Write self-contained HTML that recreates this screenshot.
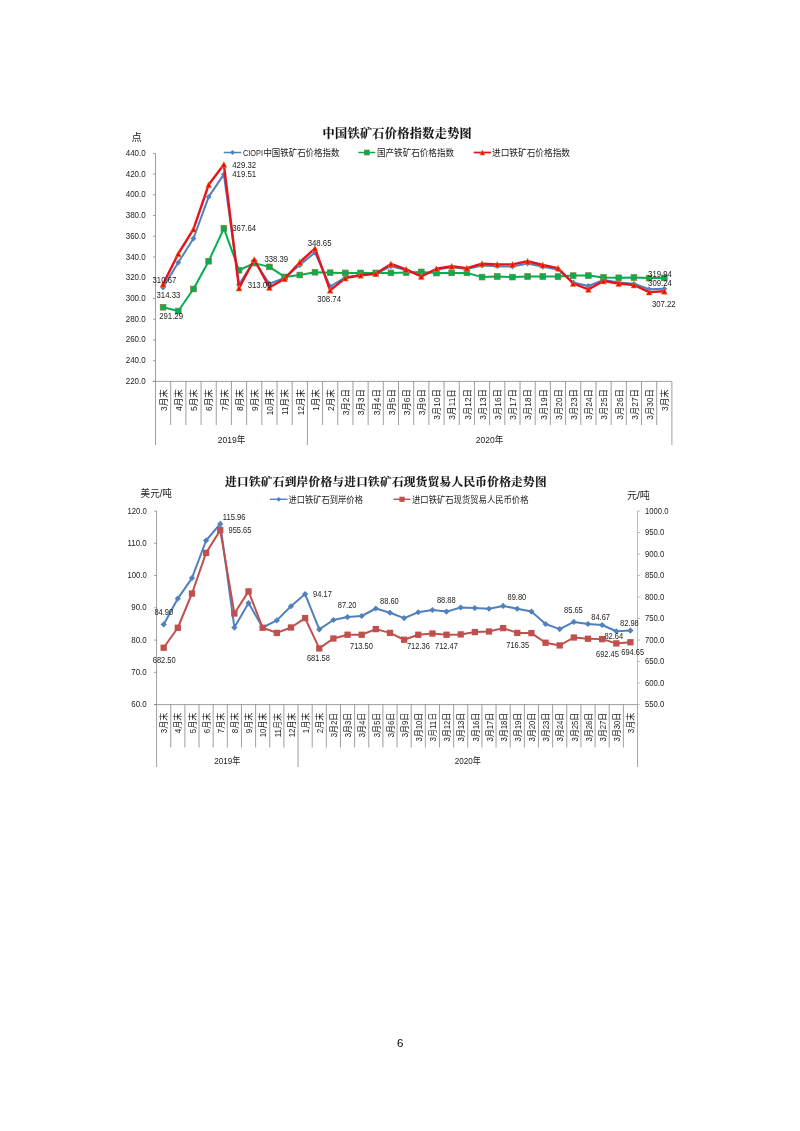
<!DOCTYPE html>
<html lang="zh-CN"><head><meta charset="utf-8"><title>铁矿石价格走势图</title>
<style>html,body{margin:0;padding:0;background:#fff}body{width:800px;height:1131px;overflow:hidden;position:relative}svg{position:absolute;left:0;top:0;display:block;will-change:transform;font-family:"Liberation Sans","Noto Sans CJK SC",sans-serif}</style></head><body>
<svg width="800" height="1131" viewBox="0 0 800 1131">
<rect width="800" height="1131" fill="#fff"/>
<g id="chart1">
<text x="322.5" y="138.3" font-size="12.1" font-weight="bold" textLength="149.2" lengthAdjust="spacing" fill="#111" font-family='"Liberation Serif","Noto Serif CJK SC",serif' stroke="#111" stroke-width="0.15">中国铁矿石价格指数走势图</text>
<text x="131.6" y="141" font-size="10.3" fill="#1c1c1c">点</text>
<path d="M223.7 152.5H241.3" stroke="#4F81BD" stroke-width="1.5"/>
<path d="M232.5 150L235 152.5L232.5 155L230 152.5Z" fill="#4F81BD"/>
<text x="243" y="155.9" font-size="9.2" textLength="20" lengthAdjust="spacingAndGlyphs" fill="#1c1c1c">CIOPI</text>
<text x="263.4" y="155.9" font-size="9.6" textLength="76" lengthAdjust="spacingAndGlyphs" fill="#1c1c1c">中国铁矿石价格指数</text>
<path d="M358.4 152.5H375.3" stroke="#00B050" stroke-width="1.5"/>
<rect x="364.3" y="150" width="5" height="5" fill="#00B050" stroke="#6f7f3f" stroke-width="0.6"/>
<text x="377" y="155.9" font-size="9.6" textLength="77" lengthAdjust="spacingAndGlyphs" fill="#1c1c1c">国产铁矿石价格指数</text>
<path d="M473.7 152.5H491.2" stroke="#E8121C" stroke-width="1.7"/>
<path d="M482.4 150L484.9 155L479.9 155Z" fill="#FF0000" stroke="#C8963C" stroke-width="0.6"/>
<text x="492" y="155.9" font-size="9.6" textLength="78" lengthAdjust="spacingAndGlyphs" fill="#1c1c1c">进口铁矿石价格指数</text>
<g stroke="#7f7f7f" stroke-width="0.75" fill="none">
<path d="M155.5 153.35V381.4M153 153.35H155.5M153 174.08H155.5M153 194.81H155.5M153 215.55H155.5M153 236.28H155.5M153 257.01H155.5M153 277.74H155.5M153 298.47H155.5M153 319.21H155.5M153 339.94H155.5M153 360.67H155.5M153 381.4H155.5"/></g>
<text x="145.7" y="155.85" font-size="8.8" text-anchor="end" textLength="20" lengthAdjust="spacingAndGlyphs" fill="#1c1c1c">440.0</text>
<text x="145.7" y="176.58" font-size="8.8" text-anchor="end" textLength="20" lengthAdjust="spacingAndGlyphs" fill="#1c1c1c">420.0</text>
<text x="145.7" y="197.31" font-size="8.8" text-anchor="end" textLength="20" lengthAdjust="spacingAndGlyphs" fill="#1c1c1c">400.0</text>
<text x="145.7" y="218.05" font-size="8.8" text-anchor="end" textLength="20" lengthAdjust="spacingAndGlyphs" fill="#1c1c1c">380.0</text>
<text x="145.7" y="238.78" font-size="8.8" text-anchor="end" textLength="20" lengthAdjust="spacingAndGlyphs" fill="#1c1c1c">360.0</text>
<text x="145.7" y="259.51" font-size="8.8" text-anchor="end" textLength="20" lengthAdjust="spacingAndGlyphs" fill="#1c1c1c">340.0</text>
<text x="145.7" y="280.24" font-size="8.8" text-anchor="end" textLength="20" lengthAdjust="spacingAndGlyphs" fill="#1c1c1c">320.0</text>
<text x="145.7" y="300.97" font-size="8.8" text-anchor="end" textLength="20" lengthAdjust="spacingAndGlyphs" fill="#1c1c1c">300.0</text>
<text x="145.7" y="321.71" font-size="8.8" text-anchor="end" textLength="20" lengthAdjust="spacingAndGlyphs" fill="#1c1c1c">280.0</text>
<text x="145.7" y="342.44" font-size="8.8" text-anchor="end" textLength="20" lengthAdjust="spacingAndGlyphs" fill="#1c1c1c">260.0</text>
<text x="145.7" y="363.17" font-size="8.8" text-anchor="end" textLength="20" lengthAdjust="spacingAndGlyphs" fill="#1c1c1c">240.0</text>
<text x="145.7" y="383.9" font-size="8.8" text-anchor="end" textLength="20" lengthAdjust="spacingAndGlyphs" fill="#1c1c1c">220.0</text>
<g stroke="#7f7f7f" stroke-width="0.75" fill="none">
<path d="M153 381.4H671.9"/>
<path d="M170.69 381.4V425M185.88 381.4V425M201.06 381.4V425M216.25 381.4V425M231.44 381.4V425M246.63 381.4V425M261.82 381.4V425M277.01 381.4V425M292.19 381.4V425M307.38 381.4V445M322.57 381.4V425M337.76 381.4V425M352.95 381.4V425M368.14 381.4V425M383.32 381.4V425M398.51 381.4V425M413.7 381.4V425M428.89 381.4V425M444.08 381.4V425M459.26 381.4V425M474.45 381.4V425M489.64 381.4V425M504.83 381.4V425M520.02 381.4V425M535.21 381.4V425M550.39 381.4V425M565.58 381.4V425M580.77 381.4V425M595.96 381.4V425M611.15 381.4V425M626.34 381.4V425M641.52 381.4V425M656.71 381.4V425"/>
<path d="M155.5 381.4V445"/>
<path d="M671.9 381.4V445"/>
</g>
<text transform="translate(166.9 389.2) rotate(-90)" font-size="9.45" text-anchor="end" textLength="21.75" lengthAdjust="spacingAndGlyphs" fill="#1c1c1c">3月末</text>
<text transform="translate(182.08 389.2) rotate(-90)" font-size="9.45" text-anchor="end" textLength="21.75" lengthAdjust="spacingAndGlyphs" fill="#1c1c1c">4月末</text>
<text transform="translate(197.27 389.2) rotate(-90)" font-size="9.45" text-anchor="end" textLength="21.75" lengthAdjust="spacingAndGlyphs" fill="#1c1c1c">5月末</text>
<text transform="translate(212.46 389.2) rotate(-90)" font-size="9.45" text-anchor="end" textLength="21.75" lengthAdjust="spacingAndGlyphs" fill="#1c1c1c">6月末</text>
<text transform="translate(227.65 389.2) rotate(-90)" font-size="9.45" text-anchor="end" textLength="21.75" lengthAdjust="spacingAndGlyphs" fill="#1c1c1c">7月末</text>
<text transform="translate(242.84 389.2) rotate(-90)" font-size="9.45" text-anchor="end" textLength="21.75" lengthAdjust="spacingAndGlyphs" fill="#1c1c1c">8月末</text>
<text transform="translate(258.03 389.2) rotate(-90)" font-size="9.45" text-anchor="end" textLength="21.75" lengthAdjust="spacingAndGlyphs" fill="#1c1c1c">9月末</text>
<text transform="translate(273.21 389.2) rotate(-90)" font-size="9.45" text-anchor="end" textLength="26.1" lengthAdjust="spacingAndGlyphs" fill="#1c1c1c">10月末</text>
<text transform="translate(288.4 389.2) rotate(-90)" font-size="9.45" text-anchor="end" textLength="26.1" lengthAdjust="spacingAndGlyphs" fill="#1c1c1c">11月末</text>
<text transform="translate(303.59 389.2) rotate(-90)" font-size="9.45" text-anchor="end" textLength="26.1" lengthAdjust="spacingAndGlyphs" fill="#1c1c1c">12月末</text>
<text transform="translate(318.78 389.2) rotate(-90)" font-size="9.45" text-anchor="end" textLength="21.75" lengthAdjust="spacingAndGlyphs" fill="#1c1c1c">1月末</text>
<text transform="translate(333.97 389.2) rotate(-90)" font-size="9.45" text-anchor="end" textLength="21.75" lengthAdjust="spacingAndGlyphs" fill="#1c1c1c">2月末</text>
<text transform="translate(349.15 389.2) rotate(-90)" font-size="9.45" text-anchor="end" textLength="26.1" lengthAdjust="spacingAndGlyphs" fill="#1c1c1c">3月2日</text>
<text transform="translate(364.34 389.2) rotate(-90)" font-size="9.45" text-anchor="end" textLength="26.1" lengthAdjust="spacingAndGlyphs" fill="#1c1c1c">3月3日</text>
<text transform="translate(379.53 389.2) rotate(-90)" font-size="9.45" text-anchor="end" textLength="26.1" lengthAdjust="spacingAndGlyphs" fill="#1c1c1c">3月4日</text>
<text transform="translate(394.72 389.2) rotate(-90)" font-size="9.45" text-anchor="end" textLength="26.1" lengthAdjust="spacingAndGlyphs" fill="#1c1c1c">3月5日</text>
<text transform="translate(409.91 389.2) rotate(-90)" font-size="9.45" text-anchor="end" textLength="26.1" lengthAdjust="spacingAndGlyphs" fill="#1c1c1c">3月6日</text>
<text transform="translate(425.1 389.2) rotate(-90)" font-size="9.45" text-anchor="end" textLength="26.1" lengthAdjust="spacingAndGlyphs" fill="#1c1c1c">3月9日</text>
<text transform="translate(440.28 389.2) rotate(-90)" font-size="9.45" text-anchor="end" textLength="30.45" lengthAdjust="spacingAndGlyphs" fill="#1c1c1c">3月10日</text>
<text transform="translate(455.47 389.2) rotate(-90)" font-size="9.45" text-anchor="end" textLength="30.45" lengthAdjust="spacingAndGlyphs" fill="#1c1c1c">3月11日</text>
<text transform="translate(470.66 389.2) rotate(-90)" font-size="9.45" text-anchor="end" textLength="30.45" lengthAdjust="spacingAndGlyphs" fill="#1c1c1c">3月12日</text>
<text transform="translate(485.85 389.2) rotate(-90)" font-size="9.45" text-anchor="end" textLength="30.45" lengthAdjust="spacingAndGlyphs" fill="#1c1c1c">3月13日</text>
<text transform="translate(501.04 389.2) rotate(-90)" font-size="9.45" text-anchor="end" textLength="30.45" lengthAdjust="spacingAndGlyphs" fill="#1c1c1c">3月16日</text>
<text transform="translate(516.23 389.2) rotate(-90)" font-size="9.45" text-anchor="end" textLength="30.45" lengthAdjust="spacingAndGlyphs" fill="#1c1c1c">3月17日</text>
<text transform="translate(531.41 389.2) rotate(-90)" font-size="9.45" text-anchor="end" textLength="30.45" lengthAdjust="spacingAndGlyphs" fill="#1c1c1c">3月18日</text>
<text transform="translate(546.6 389.2) rotate(-90)" font-size="9.45" text-anchor="end" textLength="30.45" lengthAdjust="spacingAndGlyphs" fill="#1c1c1c">3月19日</text>
<text transform="translate(561.79 389.2) rotate(-90)" font-size="9.45" text-anchor="end" textLength="30.45" lengthAdjust="spacingAndGlyphs" fill="#1c1c1c">3月20日</text>
<text transform="translate(576.98 389.2) rotate(-90)" font-size="9.45" text-anchor="end" textLength="30.45" lengthAdjust="spacingAndGlyphs" fill="#1c1c1c">3月23日</text>
<text transform="translate(592.17 389.2) rotate(-90)" font-size="9.45" text-anchor="end" textLength="30.45" lengthAdjust="spacingAndGlyphs" fill="#1c1c1c">3月24日</text>
<text transform="translate(607.35 389.2) rotate(-90)" font-size="9.45" text-anchor="end" textLength="30.45" lengthAdjust="spacingAndGlyphs" fill="#1c1c1c">3月25日</text>
<text transform="translate(622.54 389.2) rotate(-90)" font-size="9.45" text-anchor="end" textLength="30.45" lengthAdjust="spacingAndGlyphs" fill="#1c1c1c">3月26日</text>
<text transform="translate(637.73 389.2) rotate(-90)" font-size="9.45" text-anchor="end" textLength="30.45" lengthAdjust="spacingAndGlyphs" fill="#1c1c1c">3月27日</text>
<text transform="translate(652.92 389.2) rotate(-90)" font-size="9.45" text-anchor="end" textLength="30.45" lengthAdjust="spacingAndGlyphs" fill="#1c1c1c">3月30日</text>
<text transform="translate(668.11 389.2) rotate(-90)" font-size="9.45" text-anchor="end" textLength="21.75" lengthAdjust="spacingAndGlyphs" fill="#1c1c1c">3月末</text>
<text x="231.44" y="442.6" font-size="9.45" text-anchor="middle" textLength="27.6" lengthAdjust="spacingAndGlyphs" fill="#1c1c1c">2019年</text>
<text x="489.64" y="442.6" font-size="9.45" text-anchor="middle" textLength="27.6" lengthAdjust="spacingAndGlyphs" fill="#1c1c1c">2020年</text>
<polyline points="163.09,287.5 178.28,262.5 193.47,238.5 208.66,196.9 223.85,174.4 239.04,284.6 254.22,260.5 269.41,283.75 284.6,278 299.79,265 314.98,252.5 330.16,286.5 345.35,277.3 360.54,275 375.73,273.75 390.92,266.25 406.11,270 421.29,276 436.48,269.5 451.67,267.2 466.86,269 482.05,265.6 497.24,266.2 512.42,266.5 527.61,263.5 542.8,266.8 557.99,269.4 573.18,282.5 588.36,286 603.55,280 618.74,282.5 633.93,283.8 649.12,289.3 664.31,288.8" fill="none" stroke="#4F81BD" stroke-width="2" stroke-linejoin="round" stroke-linecap="round"/>
<path d="M163.09 284.6L165.99 287.5L163.09 290.4L160.19 287.5Z" fill="#4F81BD"/>
<path d="M178.28 259.6L181.18 262.5L178.28 265.4L175.38 262.5Z" fill="#4F81BD"/>
<path d="M193.47 235.6L196.37 238.5L193.47 241.4L190.57 238.5Z" fill="#4F81BD"/>
<path d="M208.66 194L211.56 196.9L208.66 199.8L205.76 196.9Z" fill="#4F81BD"/>
<path d="M223.85 171.5L226.75 174.4L223.85 177.3L220.95 174.4Z" fill="#4F81BD"/>
<path d="M239.04 281.7L241.94 284.6L239.04 287.5L236.14 284.6Z" fill="#4F81BD"/>
<path d="M254.22 257.6L257.12 260.5L254.22 263.4L251.32 260.5Z" fill="#4F81BD"/>
<path d="M269.41 280.85L272.31 283.75L269.41 286.65L266.51 283.75Z" fill="#4F81BD"/>
<path d="M284.6 275.1L287.5 278L284.6 280.9L281.7 278Z" fill="#4F81BD"/>
<path d="M299.79 262.1L302.69 265L299.79 267.9L296.89 265Z" fill="#4F81BD"/>
<path d="M314.98 249.6L317.88 252.5L314.98 255.4L312.08 252.5Z" fill="#4F81BD"/>
<path d="M330.16 283.6L333.06 286.5L330.16 289.4L327.26 286.5Z" fill="#4F81BD"/>
<path d="M345.35 274.4L348.25 277.3L345.35 280.2L342.45 277.3Z" fill="#4F81BD"/>
<path d="M360.54 272.1L363.44 275L360.54 277.9L357.64 275Z" fill="#4F81BD"/>
<path d="M375.73 270.85L378.63 273.75L375.73 276.65L372.83 273.75Z" fill="#4F81BD"/>
<path d="M390.92 263.35L393.82 266.25L390.92 269.15L388.02 266.25Z" fill="#4F81BD"/>
<path d="M406.11 267.1L409.01 270L406.11 272.9L403.21 270Z" fill="#4F81BD"/>
<path d="M421.29 273.1L424.19 276L421.29 278.9L418.39 276Z" fill="#4F81BD"/>
<path d="M436.48 266.6L439.38 269.5L436.48 272.4L433.58 269.5Z" fill="#4F81BD"/>
<path d="M451.67 264.3L454.57 267.2L451.67 270.1L448.77 267.2Z" fill="#4F81BD"/>
<path d="M466.86 266.1L469.76 269L466.86 271.9L463.96 269Z" fill="#4F81BD"/>
<path d="M482.05 262.7L484.95 265.6L482.05 268.5L479.15 265.6Z" fill="#4F81BD"/>
<path d="M497.24 263.3L500.14 266.2L497.24 269.1L494.34 266.2Z" fill="#4F81BD"/>
<path d="M512.42 263.6L515.32 266.5L512.42 269.4L509.52 266.5Z" fill="#4F81BD"/>
<path d="M527.61 260.6L530.51 263.5L527.61 266.4L524.71 263.5Z" fill="#4F81BD"/>
<path d="M542.8 263.9L545.7 266.8L542.8 269.7L539.9 266.8Z" fill="#4F81BD"/>
<path d="M557.99 266.5L560.89 269.4L557.99 272.3L555.09 269.4Z" fill="#4F81BD"/>
<path d="M573.18 279.6L576.08 282.5L573.18 285.4L570.28 282.5Z" fill="#4F81BD"/>
<path d="M588.36 283.1L591.26 286L588.36 288.9L585.46 286Z" fill="#4F81BD"/>
<path d="M603.55 277.1L606.45 280L603.55 282.9L600.65 280Z" fill="#4F81BD"/>
<path d="M618.74 279.6L621.64 282.5L618.74 285.4L615.84 282.5Z" fill="#4F81BD"/>
<path d="M633.93 280.9L636.83 283.8L633.93 286.7L631.03 283.8Z" fill="#4F81BD"/>
<path d="M649.12 286.4L652.02 289.3L649.12 292.2L646.22 289.3Z" fill="#4F81BD"/>
<path d="M664.31 285.9L667.21 288.8L664.31 291.7L661.41 288.8Z" fill="#4F81BD"/>
<polyline points="163.09,307.25 178.28,311 193.47,289 208.66,261.25 223.85,228.4 239.04,270.25 254.22,263.1 269.41,266.9 284.6,276.9 299.79,275 314.98,272.25 330.16,272.7 345.35,272.9 360.54,272.9 375.73,272.9 390.92,272.9 406.11,272.5 421.29,271.9 436.48,273.1 451.67,272.9 466.86,272.9 482.05,277.1 497.24,276.5 512.42,277.1 527.61,276.5 542.8,276.5 557.99,276.6 573.18,275.6 588.36,275.6 603.55,277.5 618.74,277.75 633.93,277.5 649.12,278.1 664.31,277.9" fill="none" stroke="#00B050" stroke-width="2" stroke-linejoin="round" stroke-linecap="round"/>
<rect x="160.24" y="304.4" width="5.7" height="5.7" fill="#00B050" stroke="#7d7a3a" stroke-width="0.7"/>
<rect x="175.43" y="308.15" width="5.7" height="5.7" fill="#00B050" stroke="#7d7a3a" stroke-width="0.7"/>
<rect x="190.62" y="286.15" width="5.7" height="5.7" fill="#00B050" stroke="#7d7a3a" stroke-width="0.7"/>
<rect x="205.81" y="258.4" width="5.7" height="5.7" fill="#00B050" stroke="#7d7a3a" stroke-width="0.7"/>
<rect x="221" y="225.55" width="5.7" height="5.7" fill="#00B050" stroke="#7d7a3a" stroke-width="0.7"/>
<rect x="236.19" y="267.4" width="5.7" height="5.7" fill="#00B050" stroke="#7d7a3a" stroke-width="0.7"/>
<rect x="251.37" y="260.25" width="5.7" height="5.7" fill="#00B050" stroke="#7d7a3a" stroke-width="0.7"/>
<rect x="266.56" y="264.05" width="5.7" height="5.7" fill="#00B050" stroke="#7d7a3a" stroke-width="0.7"/>
<rect x="281.75" y="274.05" width="5.7" height="5.7" fill="#00B050" stroke="#7d7a3a" stroke-width="0.7"/>
<rect x="296.94" y="272.15" width="5.7" height="5.7" fill="#00B050" stroke="#7d7a3a" stroke-width="0.7"/>
<rect x="312.13" y="269.4" width="5.7" height="5.7" fill="#00B050" stroke="#7d7a3a" stroke-width="0.7"/>
<rect x="327.31" y="269.85" width="5.7" height="5.7" fill="#00B050" stroke="#7d7a3a" stroke-width="0.7"/>
<rect x="342.5" y="270.05" width="5.7" height="5.7" fill="#00B050" stroke="#7d7a3a" stroke-width="0.7"/>
<rect x="357.69" y="270.05" width="5.7" height="5.7" fill="#00B050" stroke="#7d7a3a" stroke-width="0.7"/>
<rect x="372.88" y="270.05" width="5.7" height="5.7" fill="#00B050" stroke="#7d7a3a" stroke-width="0.7"/>
<rect x="388.07" y="270.05" width="5.7" height="5.7" fill="#00B050" stroke="#7d7a3a" stroke-width="0.7"/>
<rect x="403.26" y="269.65" width="5.7" height="5.7" fill="#00B050" stroke="#7d7a3a" stroke-width="0.7"/>
<rect x="418.44" y="269.05" width="5.7" height="5.7" fill="#00B050" stroke="#7d7a3a" stroke-width="0.7"/>
<rect x="433.63" y="270.25" width="5.7" height="5.7" fill="#00B050" stroke="#7d7a3a" stroke-width="0.7"/>
<rect x="448.82" y="270.05" width="5.7" height="5.7" fill="#00B050" stroke="#7d7a3a" stroke-width="0.7"/>
<rect x="464.01" y="270.05" width="5.7" height="5.7" fill="#00B050" stroke="#7d7a3a" stroke-width="0.7"/>
<rect x="479.2" y="274.25" width="5.7" height="5.7" fill="#00B050" stroke="#7d7a3a" stroke-width="0.7"/>
<rect x="494.39" y="273.65" width="5.7" height="5.7" fill="#00B050" stroke="#7d7a3a" stroke-width="0.7"/>
<rect x="509.57" y="274.25" width="5.7" height="5.7" fill="#00B050" stroke="#7d7a3a" stroke-width="0.7"/>
<rect x="524.76" y="273.65" width="5.7" height="5.7" fill="#00B050" stroke="#7d7a3a" stroke-width="0.7"/>
<rect x="539.95" y="273.65" width="5.7" height="5.7" fill="#00B050" stroke="#7d7a3a" stroke-width="0.7"/>
<rect x="555.14" y="273.75" width="5.7" height="5.7" fill="#00B050" stroke="#7d7a3a" stroke-width="0.7"/>
<rect x="570.33" y="272.75" width="5.7" height="5.7" fill="#00B050" stroke="#7d7a3a" stroke-width="0.7"/>
<rect x="585.51" y="272.75" width="5.7" height="5.7" fill="#00B050" stroke="#7d7a3a" stroke-width="0.7"/>
<rect x="600.7" y="274.65" width="5.7" height="5.7" fill="#00B050" stroke="#7d7a3a" stroke-width="0.7"/>
<rect x="615.89" y="274.9" width="5.7" height="5.7" fill="#00B050" stroke="#7d7a3a" stroke-width="0.7"/>
<rect x="631.08" y="274.65" width="5.7" height="5.7" fill="#00B050" stroke="#7d7a3a" stroke-width="0.7"/>
<rect x="646.27" y="275.25" width="5.7" height="5.7" fill="#00B050" stroke="#7d7a3a" stroke-width="0.7"/>
<rect x="661.46" y="275.05" width="5.7" height="5.7" fill="#00B050" stroke="#7d7a3a" stroke-width="0.7"/>
<polyline points="163.09,284.1 178.28,253.75 193.47,229.2 208.66,184.75 223.85,164.5 239.04,288.1 254.22,259.5 269.41,287.5 284.6,278.75 299.79,262.25 314.98,248.5 330.16,290.4 345.35,278.1 360.54,275.25 375.73,273.75 390.92,264 406.11,269.4 421.29,276.5 436.48,268.75 451.67,266.25 466.86,268.1 482.05,263.75 497.24,264.4 512.42,264.4 527.61,261.25 542.8,265 557.99,268.1 573.18,283.5 588.36,289.4 603.55,281 618.74,283.5 633.93,285 649.12,292.1 664.31,291.25" fill="none" stroke="#E8121C" stroke-width="2.4" stroke-linejoin="round" stroke-linecap="round"/>
<path d="M163.09 281.2L165.99 287L160.19 287Z" fill="#FF0000" stroke="#C8963C" stroke-width="0.6"/>
<path d="M178.28 250.85L181.18 256.65L175.38 256.65Z" fill="#FF0000" stroke="#C8963C" stroke-width="0.6"/>
<path d="M193.47 226.3L196.37 232.1L190.57 232.1Z" fill="#FF0000" stroke="#C8963C" stroke-width="0.6"/>
<path d="M208.66 181.85L211.56 187.65L205.76 187.65Z" fill="#FF0000" stroke="#C8963C" stroke-width="0.6"/>
<path d="M223.85 161.6L226.75 167.4L220.95 167.4Z" fill="#FF0000" stroke="#C8963C" stroke-width="0.6"/>
<path d="M239.04 285.2L241.94 291L236.14 291Z" fill="#FF0000" stroke="#C8963C" stroke-width="0.6"/>
<path d="M254.22 256.6L257.12 262.4L251.32 262.4Z" fill="#FF0000" stroke="#C8963C" stroke-width="0.6"/>
<path d="M269.41 284.6L272.31 290.4L266.51 290.4Z" fill="#FF0000" stroke="#C8963C" stroke-width="0.6"/>
<path d="M284.6 275.85L287.5 281.65L281.7 281.65Z" fill="#FF0000" stroke="#C8963C" stroke-width="0.6"/>
<path d="M299.79 259.35L302.69 265.15L296.89 265.15Z" fill="#FF0000" stroke="#C8963C" stroke-width="0.6"/>
<path d="M314.98 245.6L317.88 251.4L312.08 251.4Z" fill="#FF0000" stroke="#C8963C" stroke-width="0.6"/>
<path d="M330.16 287.5L333.06 293.3L327.26 293.3Z" fill="#FF0000" stroke="#C8963C" stroke-width="0.6"/>
<path d="M345.35 275.2L348.25 281L342.45 281Z" fill="#FF0000" stroke="#C8963C" stroke-width="0.6"/>
<path d="M360.54 272.35L363.44 278.15L357.64 278.15Z" fill="#FF0000" stroke="#C8963C" stroke-width="0.6"/>
<path d="M375.73 270.85L378.63 276.65L372.83 276.65Z" fill="#FF0000" stroke="#C8963C" stroke-width="0.6"/>
<path d="M390.92 261.1L393.82 266.9L388.02 266.9Z" fill="#FF0000" stroke="#C8963C" stroke-width="0.6"/>
<path d="M406.11 266.5L409.01 272.3L403.21 272.3Z" fill="#FF0000" stroke="#C8963C" stroke-width="0.6"/>
<path d="M421.29 273.6L424.19 279.4L418.39 279.4Z" fill="#FF0000" stroke="#C8963C" stroke-width="0.6"/>
<path d="M436.48 265.85L439.38 271.65L433.58 271.65Z" fill="#FF0000" stroke="#C8963C" stroke-width="0.6"/>
<path d="M451.67 263.35L454.57 269.15L448.77 269.15Z" fill="#FF0000" stroke="#C8963C" stroke-width="0.6"/>
<path d="M466.86 265.2L469.76 271L463.96 271Z" fill="#FF0000" stroke="#C8963C" stroke-width="0.6"/>
<path d="M482.05 260.85L484.95 266.65L479.15 266.65Z" fill="#FF0000" stroke="#C8963C" stroke-width="0.6"/>
<path d="M497.24 261.5L500.14 267.3L494.34 267.3Z" fill="#FF0000" stroke="#C8963C" stroke-width="0.6"/>
<path d="M512.42 261.5L515.32 267.3L509.52 267.3Z" fill="#FF0000" stroke="#C8963C" stroke-width="0.6"/>
<path d="M527.61 258.35L530.51 264.15L524.71 264.15Z" fill="#FF0000" stroke="#C8963C" stroke-width="0.6"/>
<path d="M542.8 262.1L545.7 267.9L539.9 267.9Z" fill="#FF0000" stroke="#C8963C" stroke-width="0.6"/>
<path d="M557.99 265.2L560.89 271L555.09 271Z" fill="#FF0000" stroke="#C8963C" stroke-width="0.6"/>
<path d="M573.18 280.6L576.08 286.4L570.28 286.4Z" fill="#FF0000" stroke="#C8963C" stroke-width="0.6"/>
<path d="M588.36 286.5L591.26 292.3L585.46 292.3Z" fill="#FF0000" stroke="#C8963C" stroke-width="0.6"/>
<path d="M603.55 278.1L606.45 283.9L600.65 283.9Z" fill="#FF0000" stroke="#C8963C" stroke-width="0.6"/>
<path d="M618.74 280.6L621.64 286.4L615.84 286.4Z" fill="#FF0000" stroke="#C8963C" stroke-width="0.6"/>
<path d="M633.93 282.1L636.83 287.9L631.03 287.9Z" fill="#FF0000" stroke="#C8963C" stroke-width="0.6"/>
<path d="M649.12 289.2L652.02 295L646.22 295Z" fill="#FF0000" stroke="#C8963C" stroke-width="0.6"/>
<path d="M664.31 288.35L667.21 294.15L661.41 294.15Z" fill="#FF0000" stroke="#C8963C" stroke-width="0.6"/>
<text x="232.3" y="167.75" font-size="8.8" textLength="23.8" lengthAdjust="spacingAndGlyphs" fill="#1c1c1c">429.32</text>
<text x="232.3" y="177.4" font-size="8.8" textLength="23.8" lengthAdjust="spacingAndGlyphs" fill="#1c1c1c">419.51</text>
<text x="232.3" y="231.1" font-size="8.8" textLength="23.8" lengthAdjust="spacingAndGlyphs" fill="#1c1c1c">367.64</text>
<text x="152.5" y="283.2" font-size="8.8" textLength="23.8" lengthAdjust="spacingAndGlyphs" fill="#1c1c1c">310.67</text>
<text x="156.5" y="297.8" font-size="8.8" textLength="23.8" lengthAdjust="spacingAndGlyphs" fill="#1c1c1c">314.33</text>
<text x="159.2" y="318.5" font-size="8.8" textLength="23.8" lengthAdjust="spacingAndGlyphs" fill="#1c1c1c">291.29</text>
<text x="264.4" y="262.4" font-size="8.8" textLength="23.8" lengthAdjust="spacingAndGlyphs" fill="#1c1c1c">338.39</text>
<text x="247.7" y="288.2" font-size="8.8" textLength="23.8" lengthAdjust="spacingAndGlyphs" fill="#1c1c1c">313.09</text>
<text x="307.7" y="246.3" font-size="8.8" textLength="23.8" lengthAdjust="spacingAndGlyphs" fill="#1c1c1c">348.65</text>
<text x="317.2" y="301.7" font-size="8.8" textLength="23.8" lengthAdjust="spacingAndGlyphs" fill="#1c1c1c">308.74</text>
<text x="648.1" y="276.75" font-size="8.8" textLength="23.8" lengthAdjust="spacingAndGlyphs" fill="#1c1c1c">319.94</text>
<text x="648.1" y="286.1" font-size="8.8" textLength="23.8" lengthAdjust="spacingAndGlyphs" fill="#1c1c1c">309.24</text>
<text x="651.9" y="306.75" font-size="8.8" textLength="23.8" lengthAdjust="spacingAndGlyphs" fill="#1c1c1c">307.22</text>
</g>
<g id="chart2">
<text x="225.1" y="485.6" font-size="11.6" font-weight="bold" textLength="321.4" lengthAdjust="spacing" fill="#111" font-family='"Liberation Serif","Noto Serif CJK SC",serif' stroke="#111" stroke-width="0.15">进口铁矿石到岸价格与进口铁矿石现货贸易人民币价格走势图</text>
<text x="140.6" y="496.9" font-size="10" textLength="31.3" lengthAdjust="spacingAndGlyphs" fill="#1c1c1c">美元/吨</text>
<text x="626.9" y="498.8" font-size="10" textLength="22.9" lengthAdjust="spacingAndGlyphs" fill="#1c1c1c">元/吨</text>
<path d="M270 499.3H287.5" stroke="#4F81BD" stroke-width="1.4"/>
<path d="M278.7 496.9L281.1 499.3L278.7 501.7L276.3 499.3Z" fill="#4F81BD"/>
<text x="288.6" y="502.5" font-size="9.1" textLength="74.3" lengthAdjust="spacingAndGlyphs" fill="#1c1c1c">进口铁矿石到岸价格</text>
<path d="M393.5 499.3H410.4" stroke="#C0504D" stroke-width="1.4"/>
<rect x="399.4" y="496.7" width="5.2" height="5.2" fill="#C0504D"/>
<text x="412" y="502.5" font-size="9.1" textLength="116.5" lengthAdjust="spacingAndGlyphs" fill="#1c1c1c">进口铁矿石现货贸易人民币价格</text>
<g stroke="#7f7f7f" stroke-width="0.75" fill="none">
<path d="M156.6 511V704.6M154.1 511H156.6M154.1 543.27H156.6M154.1 575.53H156.6M154.1 607.8H156.6M154.1 640.07H156.6M154.1 672.33H156.6M154.1 704.6H156.6"/></g>
<text x="146.7" y="513.6" font-size="8.8" text-anchor="end" textLength="19.3" lengthAdjust="spacingAndGlyphs" fill="#1c1c1c">120.0</text>
<text x="146.7" y="545.87" font-size="8.8" text-anchor="end" textLength="19.3" lengthAdjust="spacingAndGlyphs" fill="#1c1c1c">110.0</text>
<text x="146.7" y="578.13" font-size="8.8" text-anchor="end" textLength="19.3" lengthAdjust="spacingAndGlyphs" fill="#1c1c1c">100.0</text>
<text x="146.7" y="610.4" font-size="8.8" text-anchor="end" textLength="15.4" lengthAdjust="spacingAndGlyphs" fill="#1c1c1c">90.0</text>
<text x="146.7" y="642.67" font-size="8.8" text-anchor="end" textLength="15.4" lengthAdjust="spacingAndGlyphs" fill="#1c1c1c">80.0</text>
<text x="146.7" y="674.93" font-size="8.8" text-anchor="end" textLength="15.4" lengthAdjust="spacingAndGlyphs" fill="#1c1c1c">70.0</text>
<text x="146.7" y="707.2" font-size="8.8" text-anchor="end" textLength="15.4" lengthAdjust="spacingAndGlyphs" fill="#1c1c1c">60.0</text>
<g stroke="#A6A6A6" stroke-width="0.75" fill="none">
<path d="M637.5 511V704.6M637.5 511H640M637.5 532.51H640M637.5 554.02H640M637.5 575.53H640M637.5 597.04H640M637.5 618.56H640M637.5 640.07H640M637.5 661.58H640M637.5 683.09H640M637.5 704.6H640"/></g>
<text x="645" y="513.6" font-size="8.8" textLength="23.5" lengthAdjust="spacingAndGlyphs" fill="#1c1c1c">1000.0</text>
<text x="645" y="535.11" font-size="8.8" textLength="19.3" lengthAdjust="spacingAndGlyphs" fill="#1c1c1c">950.0</text>
<text x="645" y="556.62" font-size="8.8" textLength="19.3" lengthAdjust="spacingAndGlyphs" fill="#1c1c1c">900.0</text>
<text x="645" y="578.13" font-size="8.8" textLength="19.3" lengthAdjust="spacingAndGlyphs" fill="#1c1c1c">850.0</text>
<text x="645" y="599.64" font-size="8.8" textLength="19.3" lengthAdjust="spacingAndGlyphs" fill="#1c1c1c">800.0</text>
<text x="645" y="621.16" font-size="8.8" textLength="19.3" lengthAdjust="spacingAndGlyphs" fill="#1c1c1c">750.0</text>
<text x="645" y="642.67" font-size="8.8" textLength="19.3" lengthAdjust="spacingAndGlyphs" fill="#1c1c1c">700.0</text>
<text x="645" y="664.18" font-size="8.8" textLength="19.3" lengthAdjust="spacingAndGlyphs" fill="#1c1c1c">650.0</text>
<text x="645" y="685.69" font-size="8.8" textLength="19.3" lengthAdjust="spacingAndGlyphs" fill="#1c1c1c">600.0</text>
<text x="645" y="707.2" font-size="8.8" textLength="19.3" lengthAdjust="spacingAndGlyphs" fill="#1c1c1c">550.0</text>
<g stroke="#7f7f7f" stroke-width="0.75" fill="none">
<path d="M154.1 704.6H637.5"/>
<path d="M170.74 704.6V747.5M184.89 704.6V747.5M199.03 704.6V747.5M213.18 704.6V747.5M227.32 704.6V747.5M241.46 704.6V747.5M255.61 704.6V747.5M269.75 704.6V747.5M283.9 704.6V747.5M298.04 704.6V767M312.19 704.6V747.5M326.33 704.6V747.5M340.47 704.6V747.5M354.62 704.6V747.5M368.76 704.6V747.5M382.91 704.6V747.5M397.05 704.6V747.5M411.19 704.6V747.5M425.34 704.6V747.5M439.48 704.6V747.5M453.63 704.6V747.5M467.77 704.6V747.5M481.91 704.6V747.5M496.06 704.6V747.5M510.2 704.6V747.5M524.35 704.6V747.5M538.49 704.6V747.5M552.64 704.6V747.5M566.78 704.6V747.5M580.92 704.6V747.5M595.07 704.6V747.5M609.21 704.6V747.5M623.36 704.6V747.5"/>
<path d="M156.6 704.6V767"/>
</g>
<text transform="translate(167.35 712.9) rotate(-90)" font-size="9.1" text-anchor="end" textLength="20.25" lengthAdjust="spacingAndGlyphs" fill="#1c1c1c">3月末</text>
<text transform="translate(181.49 712.9) rotate(-90)" font-size="9.1" text-anchor="end" textLength="20.25" lengthAdjust="spacingAndGlyphs" fill="#1c1c1c">4月末</text>
<text transform="translate(195.64 712.9) rotate(-90)" font-size="9.1" text-anchor="end" textLength="20.25" lengthAdjust="spacingAndGlyphs" fill="#1c1c1c">5月末</text>
<text transform="translate(209.78 712.9) rotate(-90)" font-size="9.1" text-anchor="end" textLength="20.25" lengthAdjust="spacingAndGlyphs" fill="#1c1c1c">6月末</text>
<text transform="translate(223.92 712.9) rotate(-90)" font-size="9.1" text-anchor="end" textLength="20.25" lengthAdjust="spacingAndGlyphs" fill="#1c1c1c">7月末</text>
<text transform="translate(238.07 712.9) rotate(-90)" font-size="9.1" text-anchor="end" textLength="20.25" lengthAdjust="spacingAndGlyphs" fill="#1c1c1c">8月末</text>
<text transform="translate(252.21 712.9) rotate(-90)" font-size="9.1" text-anchor="end" textLength="20.25" lengthAdjust="spacingAndGlyphs" fill="#1c1c1c">9月末</text>
<text transform="translate(266.36 712.9) rotate(-90)" font-size="9.1" text-anchor="end" textLength="24.4" lengthAdjust="spacingAndGlyphs" fill="#1c1c1c">10月末</text>
<text transform="translate(280.5 712.9) rotate(-90)" font-size="9.1" text-anchor="end" textLength="24.4" lengthAdjust="spacingAndGlyphs" fill="#1c1c1c">11月末</text>
<text transform="translate(294.65 712.9) rotate(-90)" font-size="9.1" text-anchor="end" textLength="24.4" lengthAdjust="spacingAndGlyphs" fill="#1c1c1c">12月末</text>
<text transform="translate(308.79 712.9) rotate(-90)" font-size="9.1" text-anchor="end" textLength="20.25" lengthAdjust="spacingAndGlyphs" fill="#1c1c1c">1月末</text>
<text transform="translate(322.93 712.9) rotate(-90)" font-size="9.1" text-anchor="end" textLength="20.25" lengthAdjust="spacingAndGlyphs" fill="#1c1c1c">2月末</text>
<text transform="translate(337.08 712.9) rotate(-90)" font-size="9.1" text-anchor="end" textLength="24.4" lengthAdjust="spacingAndGlyphs" fill="#1c1c1c">3月2日</text>
<text transform="translate(351.22 712.9) rotate(-90)" font-size="9.1" text-anchor="end" textLength="24.4" lengthAdjust="spacingAndGlyphs" fill="#1c1c1c">3月3日</text>
<text transform="translate(365.37 712.9) rotate(-90)" font-size="9.1" text-anchor="end" textLength="24.4" lengthAdjust="spacingAndGlyphs" fill="#1c1c1c">3月4日</text>
<text transform="translate(379.51 712.9) rotate(-90)" font-size="9.1" text-anchor="end" textLength="24.4" lengthAdjust="spacingAndGlyphs" fill="#1c1c1c">3月5日</text>
<text transform="translate(393.65 712.9) rotate(-90)" font-size="9.1" text-anchor="end" textLength="24.4" lengthAdjust="spacingAndGlyphs" fill="#1c1c1c">3月6日</text>
<text transform="translate(407.8 712.9) rotate(-90)" font-size="9.1" text-anchor="end" textLength="24.4" lengthAdjust="spacingAndGlyphs" fill="#1c1c1c">3月9日</text>
<text transform="translate(421.94 712.9) rotate(-90)" font-size="9.1" text-anchor="end" textLength="28.55" lengthAdjust="spacingAndGlyphs" fill="#1c1c1c">3月10日</text>
<text transform="translate(436.09 712.9) rotate(-90)" font-size="9.1" text-anchor="end" textLength="28.55" lengthAdjust="spacingAndGlyphs" fill="#1c1c1c">3月11日</text>
<text transform="translate(450.23 712.9) rotate(-90)" font-size="9.1" text-anchor="end" textLength="28.55" lengthAdjust="spacingAndGlyphs" fill="#1c1c1c">3月12日</text>
<text transform="translate(464.37 712.9) rotate(-90)" font-size="9.1" text-anchor="end" textLength="28.55" lengthAdjust="spacingAndGlyphs" fill="#1c1c1c">3月13日</text>
<text transform="translate(478.52 712.9) rotate(-90)" font-size="9.1" text-anchor="end" textLength="28.55" lengthAdjust="spacingAndGlyphs" fill="#1c1c1c">3月16日</text>
<text transform="translate(492.66 712.9) rotate(-90)" font-size="9.1" text-anchor="end" textLength="28.55" lengthAdjust="spacingAndGlyphs" fill="#1c1c1c">3月17日</text>
<text transform="translate(506.81 712.9) rotate(-90)" font-size="9.1" text-anchor="end" textLength="28.55" lengthAdjust="spacingAndGlyphs" fill="#1c1c1c">3月18日</text>
<text transform="translate(520.95 712.9) rotate(-90)" font-size="9.1" text-anchor="end" textLength="28.55" lengthAdjust="spacingAndGlyphs" fill="#1c1c1c">3月19日</text>
<text transform="translate(535.1 712.9) rotate(-90)" font-size="9.1" text-anchor="end" textLength="28.55" lengthAdjust="spacingAndGlyphs" fill="#1c1c1c">3月20日</text>
<text transform="translate(549.24 712.9) rotate(-90)" font-size="9.1" text-anchor="end" textLength="28.55" lengthAdjust="spacingAndGlyphs" fill="#1c1c1c">3月23日</text>
<text transform="translate(563.38 712.9) rotate(-90)" font-size="9.1" text-anchor="end" textLength="28.55" lengthAdjust="spacingAndGlyphs" fill="#1c1c1c">3月24日</text>
<text transform="translate(577.53 712.9) rotate(-90)" font-size="9.1" text-anchor="end" textLength="28.55" lengthAdjust="spacingAndGlyphs" fill="#1c1c1c">3月25日</text>
<text transform="translate(591.67 712.9) rotate(-90)" font-size="9.1" text-anchor="end" textLength="28.55" lengthAdjust="spacingAndGlyphs" fill="#1c1c1c">3月26日</text>
<text transform="translate(605.82 712.9) rotate(-90)" font-size="9.1" text-anchor="end" textLength="28.55" lengthAdjust="spacingAndGlyphs" fill="#1c1c1c">3月27日</text>
<text transform="translate(619.96 712.9) rotate(-90)" font-size="9.1" text-anchor="end" textLength="28.55" lengthAdjust="spacingAndGlyphs" fill="#1c1c1c">3月30日</text>
<text transform="translate(634.1 712.9) rotate(-90)" font-size="9.1" text-anchor="end" textLength="20.25" lengthAdjust="spacingAndGlyphs" fill="#1c1c1c">3月末</text>
<text x="227.32" y="764.3" font-size="9.1" text-anchor="middle" textLength="26.15" lengthAdjust="spacingAndGlyphs" fill="#1c1c1c">2019年</text>
<text x="467.77" y="764.3" font-size="9.1" text-anchor="middle" textLength="26.15" lengthAdjust="spacingAndGlyphs" fill="#1c1c1c">2020年</text>
<path d="M637.5 704.6V767" stroke="#A6A6A6" stroke-width="1"/>
<polyline points="163.67,624.4 177.82,598.6 191.96,578.1 206.1,540.5 220.25,523.9 234.39,627.6 248.54,603.1 262.68,627.5 276.82,620.4 290.97,606.25 305.11,594.1 319.26,629.4 333.4,620 347.55,617.1 361.69,616 375.83,608.5 389.98,612.75 404.12,618.1 418.27,612.25 432.41,610 446.55,611.6 460.7,607.5 474.84,608.1 488.99,608.75 503.13,605.9 517.27,608.75 531.42,611.6 545.56,624 559.71,629.1 573.85,621.9 588,624 602.14,625 616.28,631.25 630.43,630.6" fill="none" stroke="#4F81BD" stroke-width="2" stroke-linejoin="round" stroke-linecap="round"/>
<path d="M163.67 621.3L166.77 624.4L163.67 627.5L160.57 624.4Z" fill="#4F81BD"/>
<path d="M177.82 595.5L180.92 598.6L177.82 601.7L174.72 598.6Z" fill="#4F81BD"/>
<path d="M191.96 575L195.06 578.1L191.96 581.2L188.86 578.1Z" fill="#4F81BD"/>
<path d="M206.1 537.4L209.2 540.5L206.1 543.6L203 540.5Z" fill="#4F81BD"/>
<path d="M220.25 520.8L223.35 523.9L220.25 527L217.15 523.9Z" fill="#4F81BD"/>
<path d="M234.39 624.5L237.49 627.6L234.39 630.7L231.29 627.6Z" fill="#4F81BD"/>
<path d="M248.54 600L251.64 603.1L248.54 606.2L245.44 603.1Z" fill="#4F81BD"/>
<path d="M262.68 624.4L265.78 627.5L262.68 630.6L259.58 627.5Z" fill="#4F81BD"/>
<path d="M276.82 617.3L279.93 620.4L276.82 623.5L273.72 620.4Z" fill="#4F81BD"/>
<path d="M290.97 603.15L294.07 606.25L290.97 609.35L287.87 606.25Z" fill="#4F81BD"/>
<path d="M305.11 591L308.21 594.1L305.11 597.2L302.01 594.1Z" fill="#4F81BD"/>
<path d="M319.26 626.3L322.36 629.4L319.26 632.5L316.16 629.4Z" fill="#4F81BD"/>
<path d="M333.4 616.9L336.5 620L333.4 623.1L330.3 620Z" fill="#4F81BD"/>
<path d="M347.55 614L350.65 617.1L347.55 620.2L344.45 617.1Z" fill="#4F81BD"/>
<path d="M361.69 612.9L364.79 616L361.69 619.1L358.59 616Z" fill="#4F81BD"/>
<path d="M375.83 605.4L378.93 608.5L375.83 611.6L372.73 608.5Z" fill="#4F81BD"/>
<path d="M389.98 609.65L393.08 612.75L389.98 615.85L386.88 612.75Z" fill="#4F81BD"/>
<path d="M404.12 615L407.22 618.1L404.12 621.2L401.02 618.1Z" fill="#4F81BD"/>
<path d="M418.27 609.15L421.37 612.25L418.27 615.35L415.17 612.25Z" fill="#4F81BD"/>
<path d="M432.41 606.9L435.51 610L432.41 613.1L429.31 610Z" fill="#4F81BD"/>
<path d="M446.55 608.5L449.65 611.6L446.55 614.7L443.45 611.6Z" fill="#4F81BD"/>
<path d="M460.7 604.4L463.8 607.5L460.7 610.6L457.6 607.5Z" fill="#4F81BD"/>
<path d="M474.84 605L477.94 608.1L474.84 611.2L471.74 608.1Z" fill="#4F81BD"/>
<path d="M488.99 605.65L492.09 608.75L488.99 611.85L485.89 608.75Z" fill="#4F81BD"/>
<path d="M503.13 602.8L506.23 605.9L503.13 609L500.03 605.9Z" fill="#4F81BD"/>
<path d="M517.27 605.65L520.38 608.75L517.27 611.85L514.17 608.75Z" fill="#4F81BD"/>
<path d="M531.42 608.5L534.52 611.6L531.42 614.7L528.32 611.6Z" fill="#4F81BD"/>
<path d="M545.56 620.9L548.66 624L545.56 627.1L542.46 624Z" fill="#4F81BD"/>
<path d="M559.71 626L562.81 629.1L559.71 632.2L556.61 629.1Z" fill="#4F81BD"/>
<path d="M573.85 618.8L576.95 621.9L573.85 625L570.75 621.9Z" fill="#4F81BD"/>
<path d="M588 620.9L591.1 624L588 627.1L584.9 624Z" fill="#4F81BD"/>
<path d="M602.14 621.9L605.24 625L602.14 628.1L599.04 625Z" fill="#4F81BD"/>
<path d="M616.28 628.15L619.38 631.25L616.28 634.35L613.18 631.25Z" fill="#4F81BD"/>
<path d="M630.43 627.5L633.53 630.6L630.43 633.7L627.33 630.6Z" fill="#4F81BD"/>
<polyline points="163.67,647.75 177.82,627.75 191.96,593.5 206.1,552.9 220.25,530.2 234.39,613.5 248.54,591.4 262.68,627.75 276.82,632.9 290.97,627.5 305.11,618.1 319.26,648.4 333.4,638.5 347.55,634.75 361.69,634.75 375.83,629.1 389.98,632.9 404.12,639.75 418.27,634.75 432.41,633.5 446.55,634.75 460.7,634.4 474.84,632.1 488.99,631.5 503.13,628.1 517.27,632.9 531.42,633.1 545.56,642.75 559.71,645.4 573.85,637.5 588,638.75 602.14,639.1 616.28,643.4 630.43,642.25" fill="none" stroke="#C0504D" stroke-width="2" stroke-linejoin="round" stroke-linecap="round"/>
<rect x="160.52" y="644.6" width="6.3" height="6.3" fill="#C0504D"/>
<rect x="174.67" y="624.6" width="6.3" height="6.3" fill="#C0504D"/>
<rect x="188.81" y="590.35" width="6.3" height="6.3" fill="#C0504D"/>
<rect x="202.95" y="549.75" width="6.3" height="6.3" fill="#C0504D"/>
<rect x="217.1" y="527.05" width="6.3" height="6.3" fill="#C0504D"/>
<rect x="231.24" y="610.35" width="6.3" height="6.3" fill="#C0504D"/>
<rect x="245.39" y="588.25" width="6.3" height="6.3" fill="#C0504D"/>
<rect x="259.53" y="624.6" width="6.3" height="6.3" fill="#C0504D"/>
<rect x="273.68" y="629.75" width="6.3" height="6.3" fill="#C0504D"/>
<rect x="287.82" y="624.35" width="6.3" height="6.3" fill="#C0504D"/>
<rect x="301.96" y="614.95" width="6.3" height="6.3" fill="#C0504D"/>
<rect x="316.11" y="645.25" width="6.3" height="6.3" fill="#C0504D"/>
<rect x="330.25" y="635.35" width="6.3" height="6.3" fill="#C0504D"/>
<rect x="344.4" y="631.6" width="6.3" height="6.3" fill="#C0504D"/>
<rect x="358.54" y="631.6" width="6.3" height="6.3" fill="#C0504D"/>
<rect x="372.68" y="625.95" width="6.3" height="6.3" fill="#C0504D"/>
<rect x="386.83" y="629.75" width="6.3" height="6.3" fill="#C0504D"/>
<rect x="400.97" y="636.6" width="6.3" height="6.3" fill="#C0504D"/>
<rect x="415.12" y="631.6" width="6.3" height="6.3" fill="#C0504D"/>
<rect x="429.26" y="630.35" width="6.3" height="6.3" fill="#C0504D"/>
<rect x="443.4" y="631.6" width="6.3" height="6.3" fill="#C0504D"/>
<rect x="457.55" y="631.25" width="6.3" height="6.3" fill="#C0504D"/>
<rect x="471.69" y="628.95" width="6.3" height="6.3" fill="#C0504D"/>
<rect x="485.84" y="628.35" width="6.3" height="6.3" fill="#C0504D"/>
<rect x="499.98" y="624.95" width="6.3" height="6.3" fill="#C0504D"/>
<rect x="514.12" y="629.75" width="6.3" height="6.3" fill="#C0504D"/>
<rect x="528.27" y="629.95" width="6.3" height="6.3" fill="#C0504D"/>
<rect x="542.41" y="639.6" width="6.3" height="6.3" fill="#C0504D"/>
<rect x="556.56" y="642.25" width="6.3" height="6.3" fill="#C0504D"/>
<rect x="570.7" y="634.35" width="6.3" height="6.3" fill="#C0504D"/>
<rect x="584.85" y="635.6" width="6.3" height="6.3" fill="#C0504D"/>
<rect x="598.99" y="635.95" width="6.3" height="6.3" fill="#C0504D"/>
<rect x="613.13" y="640.25" width="6.3" height="6.3" fill="#C0504D"/>
<rect x="627.28" y="639.1" width="6.3" height="6.3" fill="#C0504D"/>
<text x="222.75" y="520.15" font-size="8.8" textLength="22.9" lengthAdjust="spacingAndGlyphs" fill="#1c1c1c">115.96</text>
<text x="228.5" y="532.9" font-size="8.8" textLength="22.9" lengthAdjust="spacingAndGlyphs" fill="#1c1c1c">955.65</text>
<text x="154.4" y="615.4" font-size="8.8" textLength="18.8" lengthAdjust="spacingAndGlyphs" fill="#1c1c1c">84.90</text>
<text x="152.75" y="662.65" font-size="8.8" textLength="22.9" lengthAdjust="spacingAndGlyphs" fill="#1c1c1c">682.50</text>
<text x="313.1" y="597.3" font-size="8.8" textLength="18.8" lengthAdjust="spacingAndGlyphs" fill="#1c1c1c">94.17</text>
<text x="306.9" y="661.4" font-size="8.8" textLength="22.9" lengthAdjust="spacingAndGlyphs" fill="#1c1c1c">681.58</text>
<text x="337.75" y="608.3" font-size="8.8" textLength="18.8" lengthAdjust="spacingAndGlyphs" fill="#1c1c1c">87.20</text>
<text x="380" y="603.9" font-size="8.8" textLength="18.8" lengthAdjust="spacingAndGlyphs" fill="#1c1c1c">88.60</text>
<text x="350" y="648.9" font-size="8.8" textLength="22.9" lengthAdjust="spacingAndGlyphs" fill="#1c1c1c">713.50</text>
<text x="436.9" y="602.9" font-size="8.8" textLength="18.8" lengthAdjust="spacingAndGlyphs" fill="#1c1c1c">88.88</text>
<text x="406.9" y="649.4" font-size="8.8" textLength="22.9" lengthAdjust="spacingAndGlyphs" fill="#1c1c1c">712.36</text>
<text x="435" y="649.4" font-size="8.8" textLength="22.9" lengthAdjust="spacingAndGlyphs" fill="#1c1c1c">712.47</text>
<text x="507.5" y="599.8" font-size="8.8" textLength="18.8" lengthAdjust="spacingAndGlyphs" fill="#1c1c1c">89.80</text>
<text x="506.25" y="647.9" font-size="8.8" textLength="22.9" lengthAdjust="spacingAndGlyphs" fill="#1c1c1c">716.35</text>
<text x="564" y="613.15" font-size="8.8" textLength="18.8" lengthAdjust="spacingAndGlyphs" fill="#1c1c1c">85.65</text>
<text x="591.25" y="620.15" font-size="8.8" textLength="18.8" lengthAdjust="spacingAndGlyphs" fill="#1c1c1c">84.67</text>
<text x="620" y="626" font-size="8.8" textLength="18.8" lengthAdjust="spacingAndGlyphs" fill="#1c1c1c">82.98</text>
<text x="604.4" y="638.9" font-size="8.8" textLength="18.8" lengthAdjust="spacingAndGlyphs" fill="#1c1c1c">82.64</text>
<text x="596" y="656.9" font-size="8.8" textLength="22.9" lengthAdjust="spacingAndGlyphs" fill="#1c1c1c">692.45</text>
<text x="621.25" y="655.15" font-size="8.8" textLength="22.9" lengthAdjust="spacingAndGlyphs" fill="#1c1c1c">694.65</text>
</g>
<text x="400.1" y="1047" font-size="11.5" text-anchor="middle" fill="#000">6</text>
</svg></body></html>
